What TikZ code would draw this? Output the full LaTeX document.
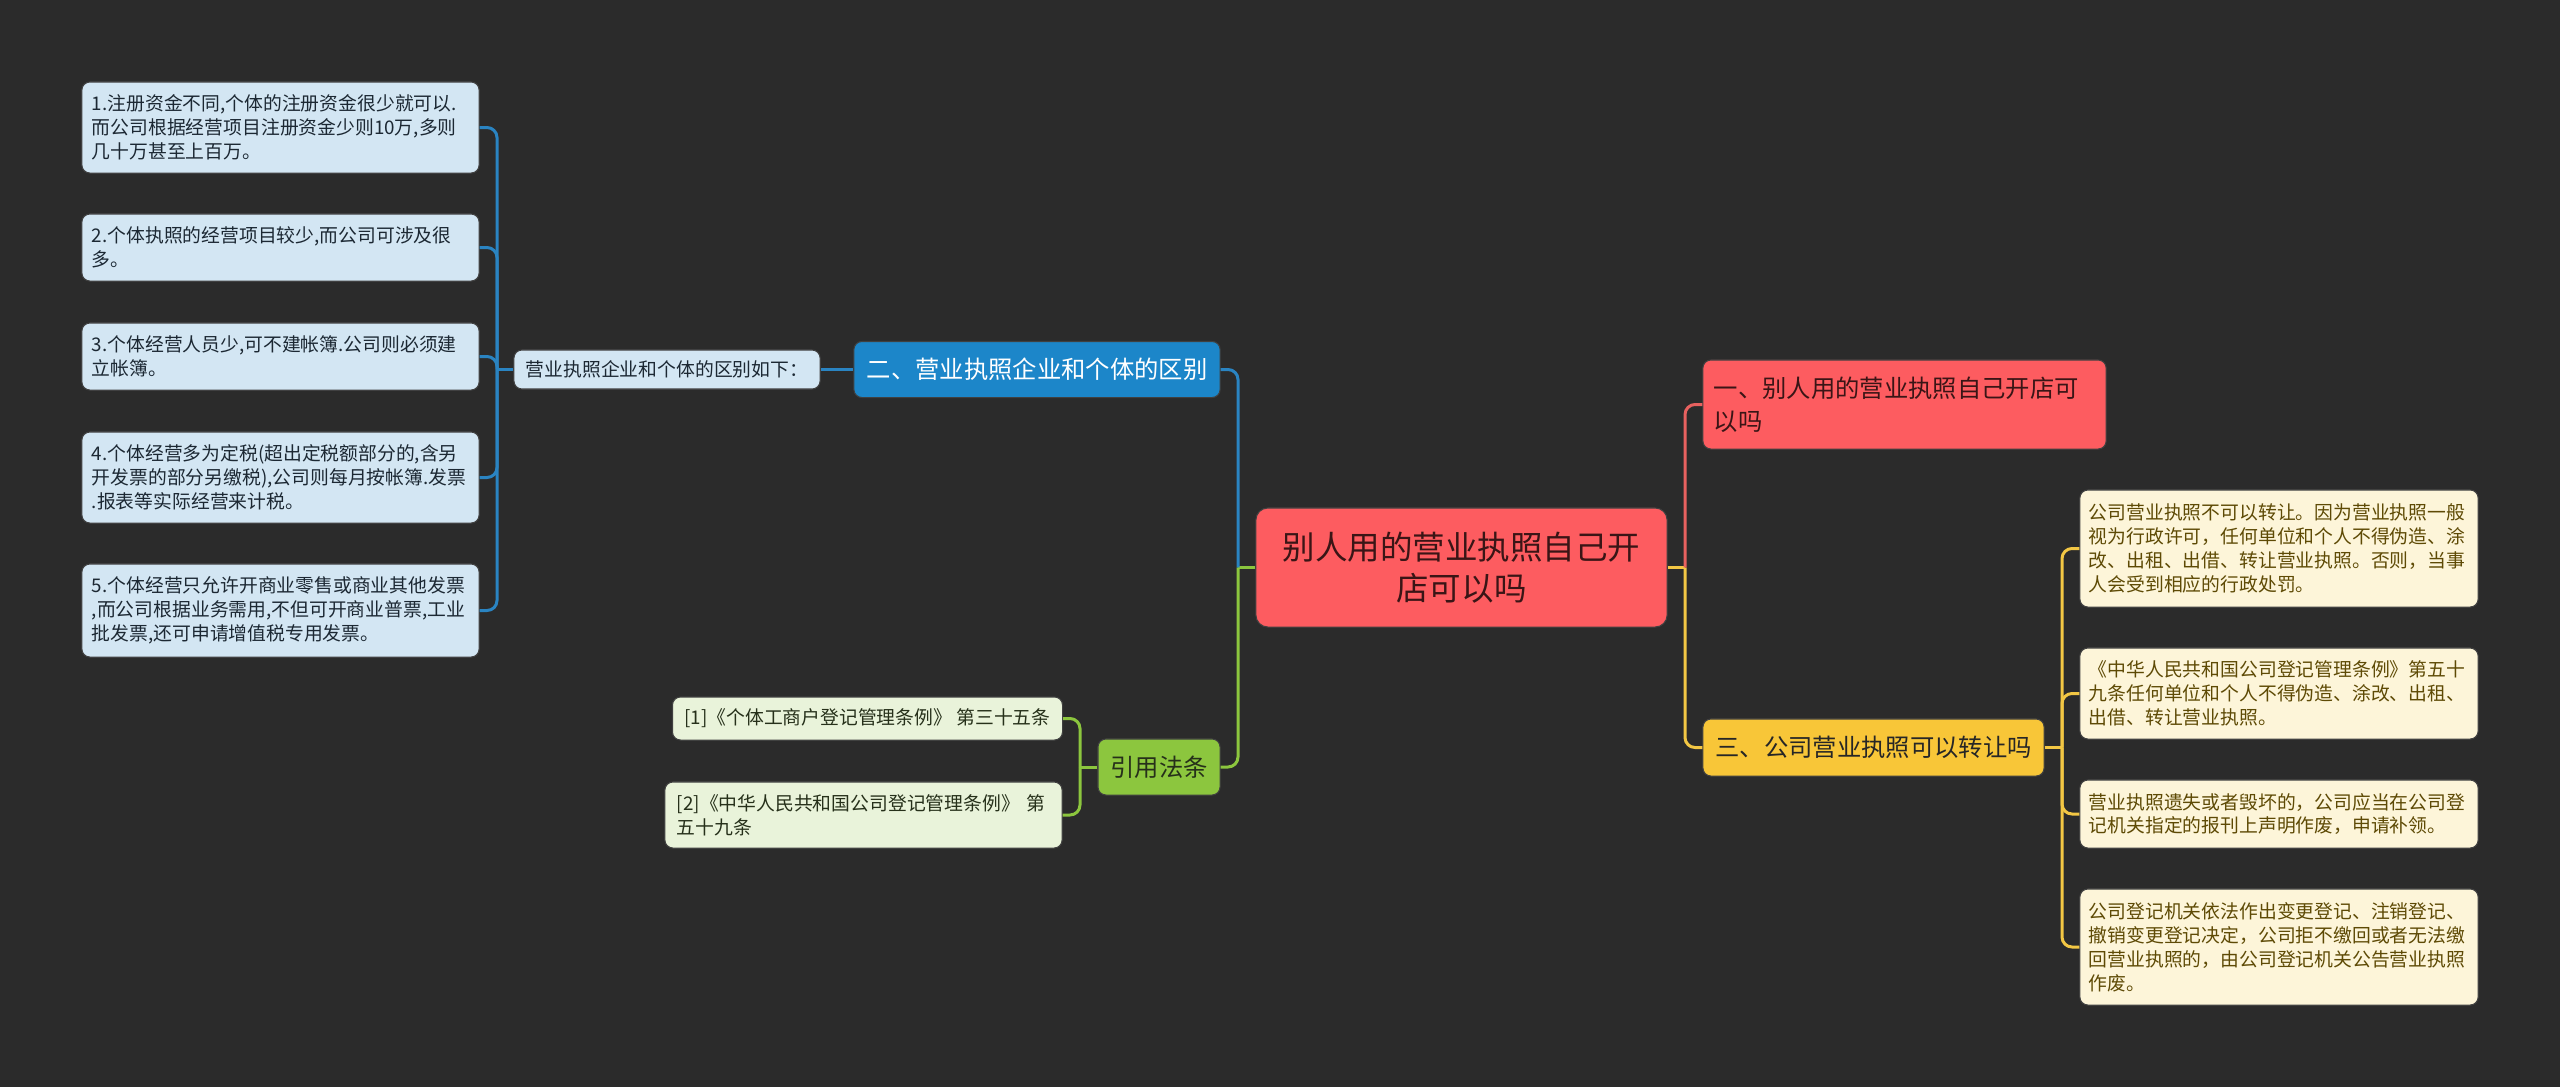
\documentclass[tikz,border=0pt]{standalone}
\usepackage{fontspec}
\setmainfont{Noto Sans CJK SC}
\usepackage{xcolor}
\usepackage{tikz}
\usetikzlibrary{positioning}

\definecolor{bgdark}{HTML}{2B2B2B}
\definecolor{rootred}{HTML}{FD5C60}
\definecolor{rootink}{HTML}{3A1516}
\definecolor{redline}{HTML}{E8615F}
\definecolor{bluefill}{HTML}{1C86C9}
\definecolor{blueline}{HTML}{2A84C2}
\definecolor{bluepale}{HTML}{D3E6F3}
\definecolor{blueink}{HTML}{1C2833}
\definecolor{greenfill}{HTML}{8CC63E}
\definecolor{greenpale}{HTML}{E9F3DA}
\definecolor{greenink}{HTML}{26301A}
\definecolor{yellowfill}{HTML}{F8C638}
\definecolor{yellowline}{HTML}{F3C744}
\definecolor{yellowpale}{HTML}{FDF5D9}
\definecolor{yellowink}{HTML}{5E4A05}

\newcommand\leafsize{\fontsize{5.35pt}{6.8pt}\selectfont}
\newcommand\branchsize{\fontsize{6.92pt}{9.35pt}\selectfont}
\newcommand\rootsize{\fontsize{9.25pt}{11.6pt}\selectfont}

\begin{document}
\begin{tikzpicture}[x=0.01cm, y=-0.01cm,
  box/.style={rounded corners=0.08cm, draw=black!75, line width=0.3pt, inner ysep=0pt},
  rootbox/.style={box, fill=rootred, text=rootink, font=\rootsize, align=center,
    rounded corners=0.12cm, minimum width=4.11cm, minimum height=1.19cm},
  redbox/.style={box, fill=rootred, text=rootink, font=\branchsize, align=left,
    text width=3.81cm, inner xsep=0.11cm, minimum height=0.89cm},
  yellowbox/.style={box, fill=yellowfill, text=black!85, font=\branchsize, minimum width=3.41cm, minimum height=0.57cm},
  bluebox/.style={box, fill=bluefill, text=white, font=\branchsize, minimum width=3.66cm, minimum height=0.56cm},
  greenbox/.style={box, fill=greenfill, text=greenink, font=\branchsize, minimum width=1.22cm, minimum height=0.56cm},
  blueleaf/.style={box, fill=bluepale, text=blueink, font=\leafsize, align=left,
    text width=3.77cm, inner xsep=0.1cm},
  greenleaf/.style={box, fill=greenpale, text=greenink, font=\leafsize, align=left, inner xsep=0.12cm},
  yellowleaf/.style={box, fill=yellowpale, text=yellowink, font=\leafsize, align=left,
    text width=3.8cm, inner xsep=0.09cm},
  link/.style={line width=0.85pt, rounded corners=0.1cm},
  bluelink/.style={link, draw=blueline},
  greenlink/.style={link, draw=greenfill},
  redlink/.style={link, draw=redline},
  yellowlink/.style={link, draw=yellowline}]
  % Background
  \fill[bgdark] (0,0) rectangle (2560,1087);
  \useasboundingbox (0,0) rectangle (2560,1087);
  % Root
  \node[rootbox] (root) at (1461.5,567.5) {别人用的营业执照自己开\\店可以吗};
  % Right branches
  \node[redbox] (one) at (1904.5,404.5) {一、别人用的营业执照自己开店可\\以吗};
  \node[yellowbox] (three) at (1873.5,747.5) {三、公司营业执照可以转让吗};
  % Left branches
  \node[bluebox] (two) at (1037,369.5) {二、营业执照企业和个体的区别};
  \node[greenbox] (law) at (1159,767) {引用法条};
  \node[box, fill=bluepale, text=blueink, font=\leafsize, minimum width=3.06cm, minimum height=0.39cm]
    (diff) at (667,369.5) {营业执照企业和个体的区别如下：};
  % Differences
  \node[blueleaf, minimum height=0.91cm] (d1) at (280.5,127.5)
    {1.注册资金不同,个体的注册资金很少就可以.\\而公司根据经营项目注册资金少则10万,多则\\几十万甚至上百万。};
  \node[blueleaf, minimum height=0.67cm] (d2) at (280.5,247.5)
    {2.个体执照的经营项目较少,而公司可涉及很\\多。};
  \node[blueleaf, minimum height=0.67cm] (d3) at (280.5,356.5)
    {3.个体经营人员少,可不建帐簿.公司则必须建\\立帐簿。};
  \node[blueleaf, minimum height=0.91cm] (d4) at (280.5,477.5)
    {4.个体经营多为定税(超出定税额部分的,含另\\开发票的部分另缴税),公司则每月按帐簿.发票\\.报表等实际经营来计税。};
  \node[blueleaf, minimum height=0.93cm] (d5) at (280.5,610.5)
    {5.个体经营只允许开商业零售或商业其他发票\\,而公司根据业务需用,不但可开商业普票,工业\\批发票,还可申请增值税专用发票。};
  % Cited articles
  \node[greenleaf, minimum width=3.89cm, minimum height=0.43cm] (ref1) at (867.5,718.5)
    {[1]《个体工商户登记管理条例》 第三十五条};
  \node[greenleaf, text width=3.73cm, minimum height=0.66cm] (ref2) at (863.5,815)
    {[2]《中华人民共和国公司登记管理条例》 第\\五十九条};
  % Transfer details
  \node[yellowleaf, minimum height=1.17cm] (t1) at (2279,548.5)
    {公司营业执照不可以转让。因为营业执照一般\\视为行政许可，任何单位和个人不得伪造、涂\\改、出租、出借、转让营业执照。否则，当事\\人会受到相应的行政处罚。};
  \node[yellowleaf, minimum height=0.91cm] (t2) at (2279,693.5)
    {《中华人民共和国公司登记管理条例》第五十\\九条任何单位和个人不得伪造、涂改、出租、\\出借、转让营业执照。};
  \node[yellowleaf, minimum height=0.68cm] (t3) at (2279,814)
    {营业执照遗失或者毁坏的，公司应当在公司登\\记机关指定的报刊上声明作废，申请补领。};
  \node[yellowleaf, minimum height=1.16cm] (t4) at (2279,947)
    {公司登记机关依法作出变更登记、注销登记、\\撤销变更登记决定，公司拒不缴回或者无法缴\\回营业执照的，由公司登记机关公告营业执照\\作废。};
  % Bus points
  \coordinate (busL) at (1238,567.5);
  \coordinate (busR) at (1685,567.5);
  \coordinate (busDiff) at (497,369.5);
  \coordinate (busLaw) at (1080,767);
  \coordinate (busT) at (2062,747.5);
  % Connectors, left side
  \draw[greenlink] (root.west) -- (busL);
  \draw[bluelink] (busL) |- (two.east);
  \draw[greenlink] (busL) |- (law.east);
  \draw[bluelink] (two.west) -- (diff.east);
  \draw[bluelink] (diff.west) -- (busDiff);
  \foreach \n in {d1,d2,d3,d4,d5}
    \draw[bluelink] (busDiff) |- (\n.east);
  \draw[greenlink] (law.west) -- (busLaw);
  \draw[greenlink] (busLaw) |- (ref1.east);
  \draw[greenlink] (busLaw) |- (ref2.east);
  % Connectors, right side
  \draw[yellowlink] (root.east) -- (busR);
  \draw[redlink] (busR) |- (one.west);
  \draw[yellowlink] (busR) |- (three.west);
  \draw[yellowlink] (three.east) -- (busT);
  \foreach \n in {t1,t2,t3,t4}
    \draw[yellowlink] (busT) |- (\n.west);
\end{tikzpicture}
\end{document}
